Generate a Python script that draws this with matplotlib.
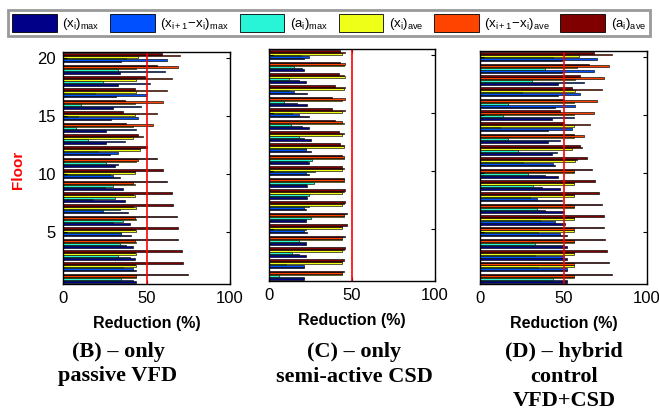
import matplotlib
matplotlib.use('Agg')
import matplotlib.pyplot as plt
import numpy as np
from matplotlib.patches import Patch

plt.rcParams['font.family'] = ['Liberation Sans', 'DejaVu Sans']
plt.rcParams['mathtext.fontset'] = 'custom'
plt.rcParams['mathtext.rm'] = 'Liberation Sans'
plt.rcParams['mathtext.it'] = 'Liberation Sans'

floors = np.arange(1, 21)
series_labels = [r'$\mathregular{(x_i)_{max}}$', r'$\mathregular{(x_{i+1}\!-\!x_i)_{max}}$',
                 r'$\mathregular{(a_i)_{max}}$', r'$\mathregular{(x_i)_{ave}}$',
                 r'$\mathregular{(x_{i+1}\!-\!x_i)_{ave}}$', r'$\mathregular{(a_i)_{ave}}$']
colors = ['#000088', '#0050ff', '#28f5d8', '#eeff18', '#ff4400', '#800000']

# (B) only passive VFD, floors 1..20
b_xmax = [44, 44, 43, 42, 41, 40, 39, 37, 36, 34, 31, 28, 26, 26, 29, 30, 32, 33, 34, 35]
b_dxmax = [42, 42, 40, 38, 35, 30, 24, 18, 25, 30, 33, 33, 37, 44, 45, 47, 50, 52, 61, 62]
b_amax = [35, 36, 33, 34, 35, 36, 34, 31, 30, 28, 26, 21, 15, 8, 9, 11, 19, 24, 33, 38]
b_xave = [44, 44, 44, 44, 44, 44, 44, 43, 43, 43, 44, 46, 42, 42, 43, 43, 44, 44, 44, 45]
b_dxave = [44, 43, 43, 43, 43, 43, 42, 42, 42, 43, 45, 46, 48, 54, 56, 60, 62, 65, 69, 70]
b_aave = [75, 72, 71, 69, 69, 68, 66, 65, 62, 60, 56, 50, 45, 38, 36, 37, 43, 49, 56, 59]

# (C) only semi-active CSD
c_xmax = [21, 21, 22, 22, 23, 22, 22, 23, 23, 24, 24, 25, 25, 24, 24, 23, 23, 22, 21, 21]
c_dxmax = [21, 21, 18, 22, 21, 22, 21, 22, 22, 22, 23, 22, 21, 20, 18, 17, 15, 18, 20, 24]
c_amax = [6, 10, 14, 18, 22, 25, 24, 24, 27, 28, 26, 22, 18, 13, 14, 9, 12, 12, 15, 19]
c_xave = [44, 44, 44, 44, 44, 45, 44, 44, 45, 44, 45, 45, 44, 45, 44, 44, 45, 46, 45, 44]
c_dxave = [44, 44, 45, 44, 44, 45, 45, 45, 45, 45, 45, 45, 45, 44, 46, 46, 46, 45, 46, 46]
c_aave = [45, 45, 46, 46, 47, 47, 46, 46, 45, 44, 44, 43, 42, 40, 38, 38, 40, 42, 43, 43]

# (D) hybrid control VFD+CSD
d_xmax = [52, 52, 52, 52, 52, 51, 50, 49, 48, 47, 45, 43, 41, 41, 43, 45, 47, 47, 49, 49]
d_dxmax = [52, 52, 50, 50, 48, 45, 39, 34, 37, 39, 44, 46, 48, 55, 56, 57, 60, 62, 68, 70]
d_amax = [44, 35, 33, 33, 35, 36, 34, 30, 32, 29, 26, 23, 17, 12, 14, 17, 25, 31, 39, 44]
d_xave = [56, 56, 56, 56, 56, 56, 56, 56, 56, 56, 57, 55, 56, 56, 56, 56, 57, 57, 58, 59]
d_dxave = [56, 56, 56, 56, 56, 56, 56, 56, 56, 56, 58, 61, 62, 66, 68, 70, 73, 74, 77, 79]
d_aave = [79, 77, 76, 75, 74, 74, 73, 71, 69, 67, 64, 60, 56, 50, 48, 50, 55, 60, 65, 68]

# axes box in pixels (left, right, top, bottom) and x centre of the caption below
panels = [
    ([b_xmax, b_dxmax, b_amax, b_xave, b_dxave, b_aave], [63, 230, 52, 284], 118, '(B) \u2013 only\npassive VFD'),
    ([c_xmax, c_dxmax, c_amax, c_xave, c_dxave, c_aave], [269, 435, 49, 281], 354, '(C) \u2013 only\nsemi-active CSD'),
    ([d_xmax, d_dxmax, d_amax, d_xave, d_dxave, d_aave], [480, 647, 51, 284], 564, '(D) \u2013 hybrid\ncontrol\nVFD+CSD'),
]

W, H = 659, 419
fig = plt.figure(figsize=(W / 100, H / 100), dpi=100)

nser = 6
grp = 0.8
bh = grp / nser
for k, (data, box, cx, title) in enumerate(panels):
    l, r, t, b = box
    ax = fig.add_axes([l / W, (H - b) / H, (r - l) / W, (b - t) / H])
    for i in range(nser):
        off = -grp / 2 + bh * (i + 0.5)
        ax.barh(floors + off, data[i], height=bh, color=colors[i],
                edgecolor='black', linewidth=0.45)
    ax.axvline(50, color='red', lw=1.2)
    ax.set_xlim(0, 100)
    ax.set_ylim(0.5, 20.5)
    ax.set_xticks([0, 50, 100])
    ax.set_yticks([5, 10, 15, 20])
    ax.tick_params(direction='in', right=True, top=True, labelsize=12, length=3, pad=5)
    if k > 0:
        ax.set_yticklabels([])
    for s in ax.spines.values():
        s.set_linewidth(1.0)
    ax.set_xlabel('Reduction (%)', fontsize=11.5, fontweight='bold', labelpad=7)
    fig.text(cx / W, 1 - 342 / H, title, ha='center', va='top',
             fontsize=16, fontweight='bold', family='Liberation Serif', linespacing=1.3)

fig.text(18 / W, 1 - 170 / H, 'Floor', rotation=90, color='red', fontsize=11,
         fontweight='bold', ha='center', va='center')

handles = [Patch(facecolor=c, edgecolor='black', linewidth=0.6) for c in colors]
leg = fig.legend(handles, series_labels, loc='upper center', bbox_to_anchor=(0.499, 0.992),
                 ncol=6, fancybox=False, edgecolor='0.6', framealpha=1, fontsize=9.5,
                 handlelength=3.4, handleheight=1.75, columnspacing=0.8, handletextpad=0.4,
                 borderpad=0.3)
leg.get_frame().set_linewidth(2.0)

fig.savefig('out.png', dpi=100)
